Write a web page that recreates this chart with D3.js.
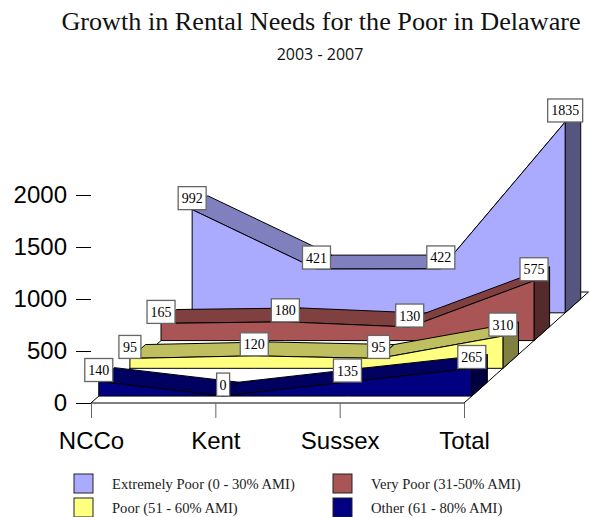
<!DOCTYPE html>
<html>
<head>
<meta charset="utf-8">
<script src="https://cdn.jsdelivr.net/npm/d3@7"></script>
<style>
  html, body { margin: 0; padding: 0; background: #fff; overflow: hidden; }
  svg { display: block; }
</style>
</head>
<body>
<script>
// Data
var categories = ["NCCo", "Kent", "Sussex", "Total"];
var extremelyPoor = [992, 421, 422, 1835];
var veryPoor = [165, 180, 130, 575];
var poor = [95, 120, 95, 310];
var other = [140, 0, 135, 265];
var yTicks = [0, 500, 1000, 1500, 2000];

// Front to back
var seriesNames = ["Other (61 - 80% AMI)", "Poor (51 - 60% AMI)", "Very Poor (31-50% AMI)", "Extremely Poor (0 - 30% AMI)"];
var seriesValues = [other, poor, veryPoor, extremelyPoor];
var frontColors = ["#000080", "#ffff80", "#aa5555", "#aaaaff"];
var topColors = ["#000060", "#bfbf60", "#804040", "#8080bf"];
var sideColors = ["#000040", "#808040", "#552a2a", "#555580"];

// Legend order
var legendRows = [
  {name: seriesNames[3], color: frontColors[3], col: 0, row: 0},
  {name: seriesNames[2], color: frontColors[2], col: 1, row: 0},
  {name: seriesNames[1], color: frontColors[1], col: 0, row: 1},
  {name: seriesNames[0], color: frontColors[0], col: 1, row: 1}
];

var width = 590;
var height = 517;
var depthX = 124.5;
var depthY = 111;

// Scales
var xScale = d3.scalePoint().domain(categories).range([91, 464]);
var yScale = d3.scaleLinear().domain([0, 2000]).range([403, 195]);
var zScale = d3.scaleBand().domain(seriesNames).range([0, 1]).paddingInner(0.5).paddingOuter(0.25);

function px(cat, z) {
  return xScale(cat) + z * depthX;
}
function py(value, z) {
  return yScale(value) - z * depthY;
}
function pts(list) {
  return list.map(function(p) { return p.join(","); }).join(" ");
}

var svg = d3.select("body").append("svg").attr("width", width).attr("height", height);

// Titles
svg.append("text").attr("x", 321).attr("y", 30).attr("text-anchor", "middle")
  .style("font-family", "'Liberation Serif'").style("font-size", "26.2px").attr("fill", "#111")
  .text("Growth in Rental Needs for the Poor in Delaware");
svg.append("text").attr("x", 320).attr("y", 60).attr("text-anchor", "middle")
  .style("font-family", "'Open Sans'").style("font-size", "16px").attr("fill", "#111")
  .text("2003 - 2007");

// Floor
var firstCat = categories[0];
var lastCat = categories[categories.length - 1];
svg.append("polygon")
  .attr("points", pts([
    [px(firstCat, 0), py(0, 0)], [px(lastCat, 0), py(0, 0)],
    [px(lastCat, 1), py(0, 1)], [px(firstCat, 1), py(0, 1)]
  ]))
  .attr("fill", "#fff").attr("stroke", "#000");

// Y axis, ticks only
var yAxis = d3.axisLeft(yScale).tickValues(yTicks).tickFormat(d3.format("d")).tickSize(15).tickPadding(9);
var yG = svg.append("g").attr("transform", "translate(91,0)").call(yAxis);
yG.select(".domain").remove();
yG.selectAll("text").style("font-family", "'Liberation Sans'").style("font-size", "24px").attr("fill", "#000");
yG.selectAll("line").attr("stroke", "#000");

// X axis
var xAxis = d3.axisBottom(xScale).tickSize(15).tickPadding(14);
var xG = svg.append("g").attr("transform", "translate(0,403)").call(xAxis);
xG.select(".domain").remove();
xG.selectAll("text").style("font-family", "'Liberation Sans'").style("font-size", "24px").attr("fill", "#000");
xG.selectAll("line").attr("stroke", "#666");

// Areas, back series first
d3.range(seriesNames.length - 1, -1, -1).forEach(function(i) {
  var name = seriesNames[i];
  var values = seriesValues[i];
  var z0 = zScale(name);
  var z1 = z0 + zScale.bandwidth();
  var g = svg.append("g");

  // top faces
  categories.slice(1).forEach(function(cat, k) {
    var prev = categories[k];
    g.append("polygon")
      .attr("points", pts([
        [px(prev, z0), py(values[k], z0)], [px(cat, z0), py(values[k + 1], z0)],
        [px(cat, z1), py(values[k + 1], z1)], [px(prev, z1), py(values[k], z1)]
      ]))
      .attr("fill", topColors[i]).attr("stroke", "#000");
  });

  // side face
  g.append("polygon")
    .attr("points", pts([
      [px(lastCat, z0), py(0, z0)], [px(lastCat, z1), py(0, z1)],
      [px(lastCat, z1), py(values[3], z1)], [px(lastCat, z0), py(values[3], z0)]
    ]))
    .attr("fill", sideColors[i]).attr("stroke", "#000");

  // front face
  var area = d3.area()
    .x(function(d, k) { return px(categories[k], z0); })
    .y0(py(0, z0))
    .y1(function(d) { return py(d, z0); });
  g.append("path").attr("d", area(values))
    .attr("fill", frontColors[i]).attr("stroke", "#000");
});

// Value labels
var labelW = {1: 13, 2: 22, 3: 28, 4: 35};
seriesValues.forEach(function(values, i) {
  var z0 = zScale(seriesNames[i]);
  values.forEach(function(v, k) {
    var cx = px(categories[k], z0);
    var cy = py(v, z0) - 11.5;
    var w = labelW[String(v).length];
    svg.append("rect")
      .attr("x", cx - w / 2).attr("y", cy - 11.5).attr("width", w).attr("height", 23)
      .attr("fill", "#fff").attr("stroke", "#666").attr("stroke-width", 1.3);
    svg.append("text")
      .attr("x", cx).attr("y", cy + 5).attr("text-anchor", "middle")
      .style("font-family", "'Liberation Serif'").style("font-size", "14px").attr("fill", "#000")
      .text(v);
  });
});

// Legend
var legend = svg.selectAll(".legend").data(legendRows).enter().append("g")
  .attr("class", "legend")
  .attr("transform", function(d) {
    return "translate(" + (d.col ? 333 : 74) + "," + (d.row ? 498 : 474) + ")";
  });
legend.append("rect").attr("width", 19).attr("height", 19)
  .attr("fill", function(d) { return d.color; }).attr("stroke", "#222");
legend.append("text").attr("x", 38).attr("y", 15)
  .style("font-family", "'Liberation Serif'").style("font-size", "14.6px").attr("fill", "#222")
  .text(function(d) { return d.name; });
</script>
</body>
</html>
